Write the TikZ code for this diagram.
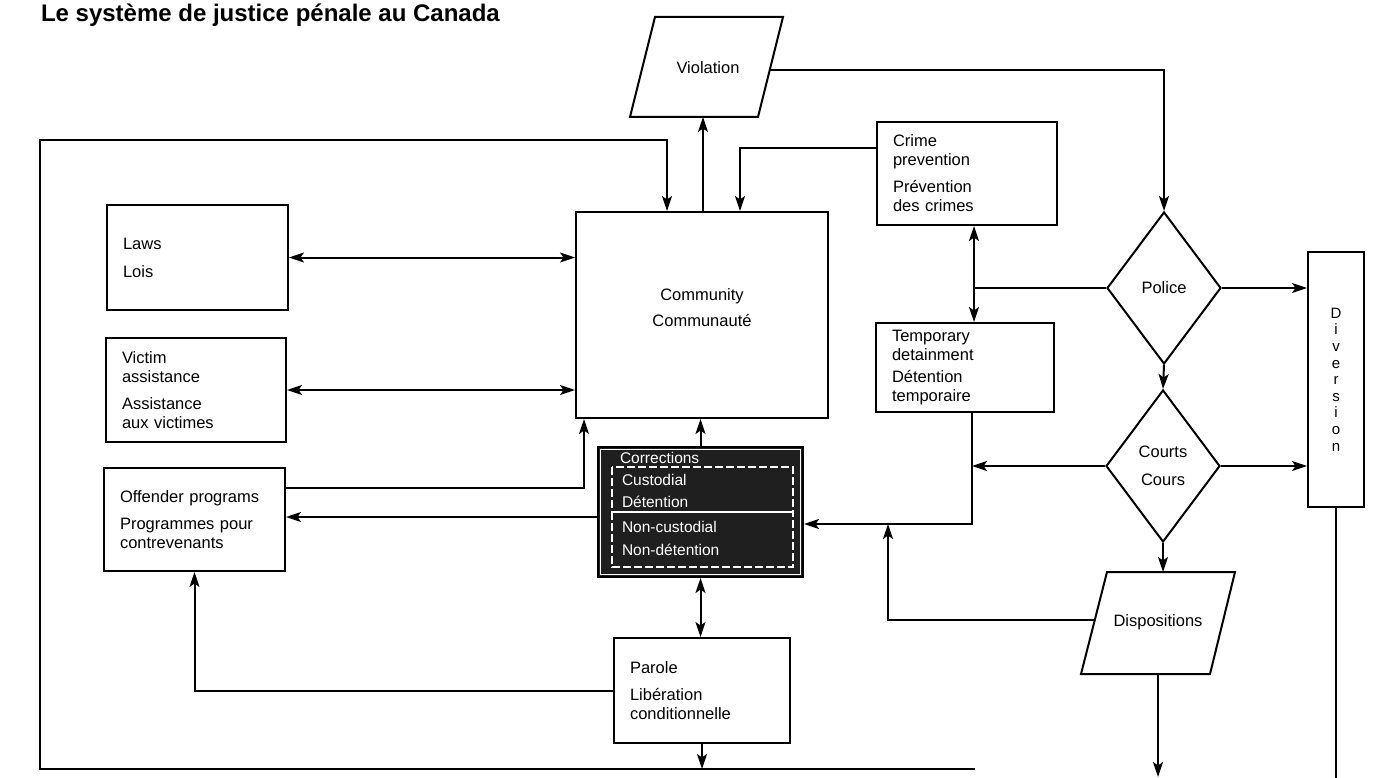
\documentclass[tikz,border=0pt]{standalone}
\usepackage{fontspec}
\setmainfont{Liberation Sans}
\usetikzlibrary{shapes.geometric,arrows.meta,calc}
\begin{document}
\begin{tikzpicture}[x=1pt,y=-1pt,
  every path/.style={line width=2pt},
  arr/.style={line width=2pt, -{Stealth[length=15pt,width=10pt,inset=3.5pt]}},
  dbl/.style={line width=2pt, {Stealth[length=15pt,width=10pt,inset=3.5pt]}-{Stealth[length=15pt,width=10pt,inset=3.5pt]}},
  plain/.style={line width=2pt},
  txt/.style={font=\fontsize{16.5}{19}\selectfont},
  box/.style={draw, line width=2pt, fill=white, inner xsep=16pt, inner ysep=0pt, align=left, txt},
  dia/.style={draw, diamond, line width=2pt, minimum width=114pt, minimum height=152pt, inner sep=0pt, align=center, txt},
  ctext/.style={text=white, anchor=west, inner sep=0pt, font=\fontsize{15.5}{18}\selectfont},
  para/.style={draw, line width=2pt}
]
\useasboundingbox (0,0) rectangle (1375,778);

% title
\node[anchor=base west, inner sep=0pt, font=\fontsize{24}{28}\selectfont\bfseries] (title) at (40,22) {Le système de justice pénale au Canada};

% boxes
\node[box, text width=149pt, minimum height=105pt] (laws) at (197.5,257.5) {Laws\\[9pt]Lois};
\node[box, text width=148pt, minimum height=104pt] (victim) at (196,390) {Victim\\assistance\\[8pt]Assistance\\aux victimes};
\node[box, text width=149pt, minimum height=103pt] (off) at (194.5,519.5) {Offender programs\\[8pt]Programmes pour\\contrevenants};
\node[box, text width=148pt, minimum height=103pt] (crime) at (967,173.5) {Crime\\prevention\\[8pt]Prévention\\des crimes};
\node[box, text width=146pt, minimum height=89pt] (temp) at (965,367.5) {Temporary\\detainment\\[3pt]Détention\\temporaire};
\node[box, text width=144pt, minimum height=105pt] (parole) at (702,690.5) {Parole\\[8pt]Libération\\conditionnelle};
\node[box, align=center, text width=220pt, minimum height=206pt] (comm) at (702,315) {Community\\[7pt]Communauté\\[-5pt]\mbox{}};

% diversion
\node[draw, line width=2pt, minimum width=56pt, minimum height=255pt, inner sep=0pt, align=center,
      font=\fontsize{15}{16.6}\selectfont] (div) at (1336,379.5) {D\\i\\v\\e\\r\\s\\i\\o\\n};

% decisions
\node[dia] (police) at (1164,288) {Police};
\node[dia] (courts) at (1163,466) {Courts\\[9pt]Cours};

% violation parallelogram
\draw[para] (655,17) -- (783,17) -- (758,117) -- (630,117) -- cycle;
\node[txt] (viol) at (708,68) {Violation};
\coordinate (vB) at (704,117);
\coordinate (vR) at (770,70);

% dispositions parallelogram
\draw[para] (1107,572) -- (1235,572) -- (1210,674) -- (1081,674) -- cycle;
\node[txt] (disp) at (1158,622) {Dispositions};
\coordinate (dT) at (1162,572);
\coordinate (dL) at (1095,620);
\coordinate (dB) at (1158,674);
\coordinate (dEnd) at (1158,777);

% corrections
\node[draw=black, fill=black!88, line width=2pt, minimum width=205pt, minimum height=130pt, inner sep=0pt] (corr) at (700.5,512) {};
\draw[white, line width=0.9pt] ([shift={(3.5pt,-3.5pt)}]corr.north west) rectangle ([shift={(-3.5pt,3.5pt)}]corr.south east);
\draw[white, line width=1.1pt, dash pattern=on 8pt off 3pt] (612,467) rectangle (793,512);
\draw[white, line width=1.1pt, dash pattern=on 8pt off 3pt] (612,512) rectangle (793,567);
\node[ctext] (corrA) at (619,458) {Corrections};
\node[ctext] (corrB) at (621,480) {Custodial};
\node[ctext] (corrC) at (621,502) {Détention};
\node[ctext] (corrD) at (621,527) {Non-custodial};
\node[ctext] (corrE) at (621,550) {Non-détention};

% outer loop
\coordinate (tl) at (40,140);
\coordinate (bl) at (40,769);
\coordinate (br) at (975,769);
\coordinate (bot) at (0,778);
\draw[arr] (br) -- (bl) -- (tl) -| ([xshift=92pt]comm.north west);

% left side connectors
\draw[dbl] (laws.east) -- (laws.east -| comm.west);
\draw[dbl] (victim.east) -- (victim.east -| comm.west);
\draw[arr] ([yshift=-21pt]off.north east) -| ([xshift=9pt]comm.south west);
\coordinate (cw) at ([yshift=-5pt]corr.west);
\draw[arr] (cw) -- (cw -| off.east);
\draw[arr] (parole.west) -| (off.south);
\draw[arr] (corr.north) -- (corr.north |- comm.south);
\draw[dbl] (corr.south) -- (corr.south |- parole.north);
\draw[arr] (parole.south) -- (parole.south |- bl);

% top connectors
\coordinate (cv) at ([xshift=128pt]comm.north west);
\draw[arr] (cv) -- (cv |- vB);
\coordinate (cc) at ([yshift=-27pt]crime.north west);
\draw[arr] (cc) -| ([xshift=165pt]comm.north west);
\draw[arr] (vR) -| (police.north);

% right side connectors
\draw[arr] (police.east) -- (police.east -| div.west);
\draw[arr] (courts.east) -- (courts.east -| div.west);
\draw[arr] (police.south) -- (courts.north);
\coordinate (ct) at ([xshift=7pt]crime.south);
\draw[dbl] (ct) -- (ct |- temp.north);
\draw[plain] (police.west) -- (police.west -| ct);
\coordinate (tb) at ([xshift=7pt]temp.south);
\coordinate (ce) at ([yshift=-12pt]corr.east);
\draw[arr] (tb) |- (ce);
\draw[arr] (courts.west) -- (courts.west -| tb);
\draw[arr] (dL) -| ($(ce)+(84,0)$);
\draw[arr] (courts.south) -- (courts.south |- dT);
\draw[arr] (dB) -- (dEnd);
\draw[plain] (div.south) -- (div.south |- bot);
\end{tikzpicture}
\end{document}
